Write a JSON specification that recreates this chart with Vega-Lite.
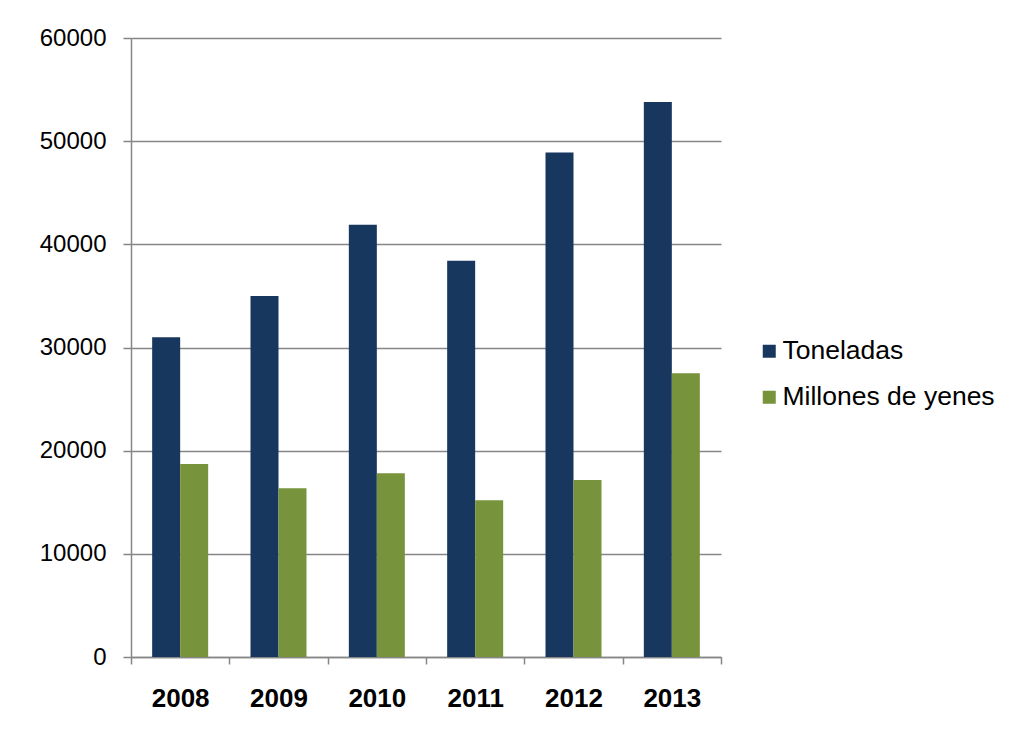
{
  "$schema": "https://vega.github.io/schema/vega-lite/v6.json",
  "width": 590,
  "height": 619,
  "autosize": {"type": "none"},
  "padding": {"left": 131, "top": 38, "right": 292, "bottom": 76},
  "background": "white",
  "data": {
    "values": [
      {"year": "2008", "serie": "Toneladas", "valor": 31000},
      {"year": "2009", "serie": "Toneladas", "valor": 35000},
      {"year": "2010", "serie": "Toneladas", "valor": 41900},
      {"year": "2011", "serie": "Toneladas", "valor": 38400},
      {"year": "2012", "serie": "Toneladas", "valor": 48900},
      {"year": "2013", "serie": "Toneladas", "valor": 53800},
      {"year": "2008", "serie": "Millones de yenes", "valor": 18700},
      {"year": "2009", "serie": "Millones de yenes", "valor": 16350},
      {"year": "2010", "serie": "Millones de yenes", "valor": 17800},
      {"year": "2011", "serie": "Millones de yenes", "valor": 15200},
      {"year": "2012", "serie": "Millones de yenes", "valor": 17150},
      {"year": "2013", "serie": "Millones de yenes", "valor": 27500}
    ]
  },
  "mark": {"type": "bar"},
  "encoding": {
    "x": {
      "field": "year",
      "type": "nominal",
      "scale": {"paddingInner": 0, "paddingOuter": 0},
      "axis": {
        "title": null,
        "labelAngle": 0,
        "labelFont": "Liberation Sans",
        "labelFontSize": 26,
        "labelFontWeight": "bold",
        "labelColor": "#000000",
        "labelPadding": 21,
        "tickBand": "extent",
        "tickSize": 7,
        "tickColor": "#868686",
        "domainColor": "#868686",
        "domainWidth": 1.5,
        "tickWidth": 1.5
      }
    },
    "xOffset": {
      "field": "serie",
      "type": "nominal",
      "sort": ["Toneladas", "Millones de yenes"],
      "scale": {"paddingInner": 0, "paddingOuter": 0.756}
    },
    "y": {
      "field": "valor",
      "type": "quantitative",
      "scale": {"domain": [0, 60000], "nice": false},
      "axis": {
        "title": null,
        "values": [0, 10000, 20000, 30000, 40000, 50000, 60000],
        "format": "d",
        "labelFont": "Liberation Sans",
        "labelFontSize": 24,
        "labelColor": "#000000",
        "labelPadding": 17,
        "tickSize": 8,
        "tickColor": "#868686",
        "tickWidth": 1.5,
        "domainColor": "#868686",
        "domainWidth": 1.5,
        "grid": true,
        "gridColor": "#868686",
        "gridWidth": 1.5
      }
    },
    "color": {
      "field": "serie",
      "type": "nominal",
      "sort": ["Toneladas", "Millones de yenes"],
      "scale": {"domain": ["Toneladas", "Millones de yenes"], "range": ["#17375E", "#77933C"]},
      "legend": {
        "title": null,
        "orient": "none",
        "legendX": 625,
        "legendY": 300,
        "symbolType": "square",
        "symbolSize": 169,
        "symbolStrokeWidth": 0,
        "labelFont": "Liberation Sans",
        "labelFontSize": 26.5,
        "labelColor": "#000000",
        "labelOffset": 0,
        "labelLimit": 400,
        "rowPadding": 19,
        "padding": 0
      }
    }
  },
  "config": {"view": {"stroke": null}}
}
